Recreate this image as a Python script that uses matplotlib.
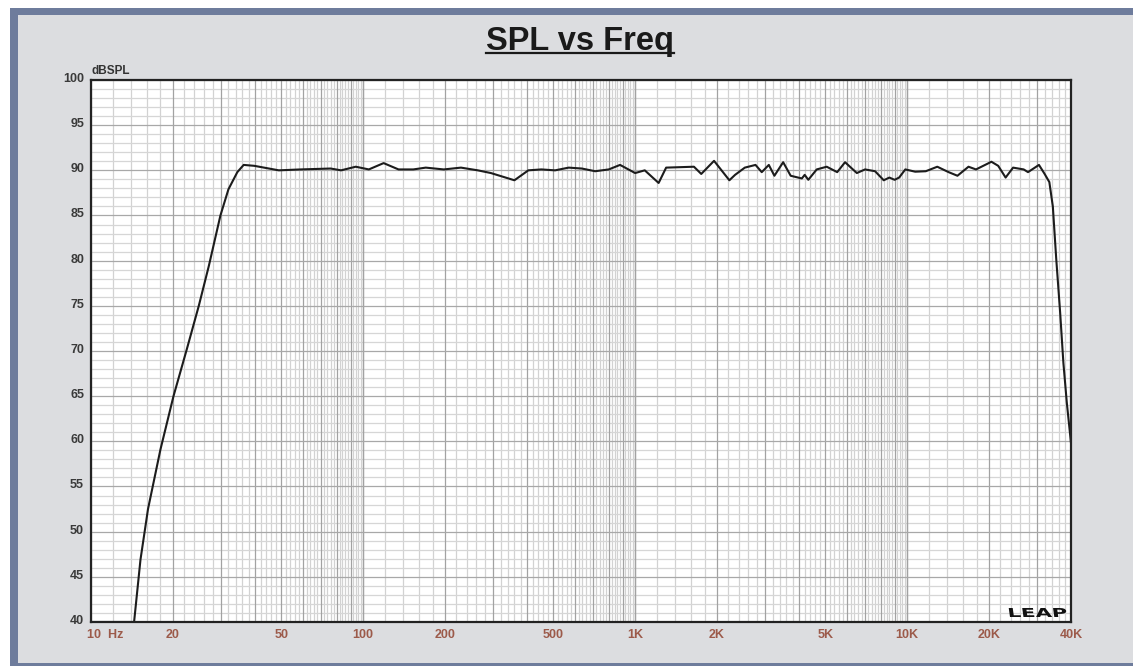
import matplotlib
matplotlib.use("Agg")
import matplotlib.pyplot as plt
from matplotlib.patches import Rectangle, PathPatch
from matplotlib.lines import Line2D
from matplotlib.textpath import TextPath
from matplotlib.font_manager import FontProperties
from matplotlib.transforms import Affine2D, ScaledTranslation
import numpy as np

plt.rcParams['font.family'] = ['Liberation Sans', 'DejaVu Sans']

W, H = 1133, 666

# frequency response (Hz, dBSPL)
freq = [10, 14.4, 15.2, 16.2, 18.0, 20.1, 22.5, 24.9, 27.1, 29.9, 32.0, 34.5,
        36.4, 39.8, 49, 59, 76, 83, 94, 105, 119, 135, 153, 170, 198, 229,
        264, 295, 360, 405, 452, 508, 570, 637, 713, 800, 880, 1000, 1085,
        1220, 1300, 1645, 1750, 1950, 2220, 2330, 2530, 2770, 2920, 3100,
        3250, 3500, 3730, 4100, 4200, 4330, 4650, 5060, 5530, 5910, 6530,
        7000, 7620, 8200, 8600, 8990, 9340, 9840, 10700, 11700, 12900,
        14200, 15300, 16800, 17900, 20400, 21600, 23000, 24500, 26800,
        27800, 30500, 32000, 33300, 34300, 35300, 36500, 37500, 38600, 40000]
spl = [40, 40, 46.9, 52.5, 59.1, 65.0, 70.2, 75.0, 79.4, 85.0, 87.9, 89.8,
       90.6, 90.5, 90.0, 90.1, 90.2, 90.0, 90.4, 90.1, 90.8, 90.1, 90.1,
       90.3, 90.1, 90.3, 90.0, 89.7, 88.9, 90.0, 90.1, 90.0, 90.3, 90.2,
       89.9, 90.1, 90.6, 89.7, 90.0, 88.6, 90.3, 90.4, 89.6, 91.05, 88.9,
       89.5, 90.3, 90.6, 89.8, 90.6, 89.4, 90.9, 89.4, 89.1, 89.5, 88.95,
       90.1, 90.4, 89.8, 90.9, 89.7, 90.1, 89.9, 88.9, 89.2, 88.95, 89.2,
       90.1, 89.85, 89.9, 90.4, 89.8, 89.4, 90.4, 90.1, 90.95, 90.5, 89.2,
       90.3, 90.1, 89.8, 90.6, 89.6, 88.7, 86.0, 80.2, 74.2, 68.7, 64.3, 59.8]

x_ticks = [20, 50, 100, 200, 500, 1000, 2000, 5000, 10000, 20000, 40000]
x_labels = ['20', '50', '100', '200', '500', '1K', '2K', '5K', '10K', '20K', '40K']
y_ticks = list(range(40, 101, 5))

fig = plt.figure(figsize=(W / 100, H / 100), dpi=100)
fig.patch.set_facecolor('white')
fig.patches.append(Rectangle((10 / W, 0), 1, (H - 8) / H, transform=fig.transFigure,
                             facecolor='#6e7c9c', edgecolor='none', zorder=-2))
fig.patches.append(Rectangle((18 / W, 3 / H), 1, (H - 15 - 3) / H, transform=fig.transFigure,
                             facecolor='#dcdde0', edgecolor='none', zorder=-1))

ax = fig.add_axes([91 / W, 44 / H, (1071 - 91) / W, (586 - 44) / H])
ax.set_zorder(2)
ax.set_facecolor('white')
ax.set_xscale('log')
ax.set_xlim(10, 40000)
ax.set_ylim(40, 100)

# grid: every 2 units within a decade light, each multiple dark
light_x, dark_x = [], []
for d in [10, 100, 1000, 10000]:
    for m in range(10, 101, 2):
        f = d * m / 10
        if f > 40000:
            break
        (dark_x if m % 10 == 0 else light_x).append(f)
ax.vlines(light_x, 40, 100, colors='#d2d2d2', linewidth=0.9, zorder=1)
ax.hlines([v for v in range(40, 101) if v % 5], 10, 40000, colors='#d6d6d6',
          linewidth=0.9, zorder=1)
ax.vlines(dark_x, 40, 100, colors='#a2a2a2', linewidth=0.9, zorder=2)
ax.hlines(y_ticks, 10, 40000, colors='#a8a8a8', linewidth=0.9, zorder=2)

ax.plot(freq, spl, color='#1c1c1c', linewidth=1.5, zorder=5,
        solid_joinstyle='round', solid_capstyle='round')

for s in ax.spines.values():
    s.set_linewidth(1.6)
    s.set_color('#222222')
    s.set_zorder(6)

ax.set_yticks(y_ticks)
ax.set_yticklabels([str(v) for v in y_ticks], fontsize=9, fontweight='bold',
                   color='#3a3a3a')
ax.set_xticks(x_ticks)
ax.set_xticklabels(x_labels, fontsize=9, fontweight='bold', color='#9c5a4a')
ax.xaxis.set_minor_locator(matplotlib.ticker.NullLocator())
ax.tick_params(axis='both', length=0)
ax.tick_params(axis='x', pad=5)
ax.tick_params(axis='y', pad=5)
lift = ScaledTranslation(0, 2.5 / 100, fig.dpi_scale_trans)
for lab in ax.get_yticklabels():
    lab.set_transform(lab.get_transform() + lift)
ax.annotate('10  Hz', xy=(10, 40), xytext=(-3, -5), textcoords='offset points',
            ha='left', va='top', fontsize=9, fontweight='bold', color='#9c5a4a',
            annotation_clip=False)

fig.text(91 / W, 1 - 74 / H, 'dBSPL', fontsize=8.5, fontweight='bold',
         color='#333333', ha='left', va='baseline')

# LEAP logo, stretched wide
tp = TextPath((0, 0), 'LEAP', size=10,
              prop=FontProperties(family='DejaVu Sans', weight='bold'))
ext = tp.get_extents()
logo_tf = (Affine2D().translate(-ext.x0, -ext.y0)
           .scale(57 / ext.width, 9 / ext.height)
           .skew_deg(-8, 0)
           .translate(1010, H - 617))
fig.add_artist(PathPatch(tp, transform=logo_tf, facecolor='#111111',
                         edgecolor='none', zorder=10))

title = fig.text(580 / W, 1 - 50 / H, 'SPL vs Freq', fontsize=23.5, fontweight='bold',
                 color='#1a1a1a', ha='center', va='baseline')
fig.canvas.draw()
bb = title.get_window_extent()
uy = (H - 53) / H
fig.add_artist(Line2D([bb.x0 / W, bb.x1 / W], [uy, uy], transform=fig.transFigure,
                      color='#1a1a1a', linewidth=1.6))

fig.savefig('out.png', dpi=100, facecolor=fig.get_facecolor())
